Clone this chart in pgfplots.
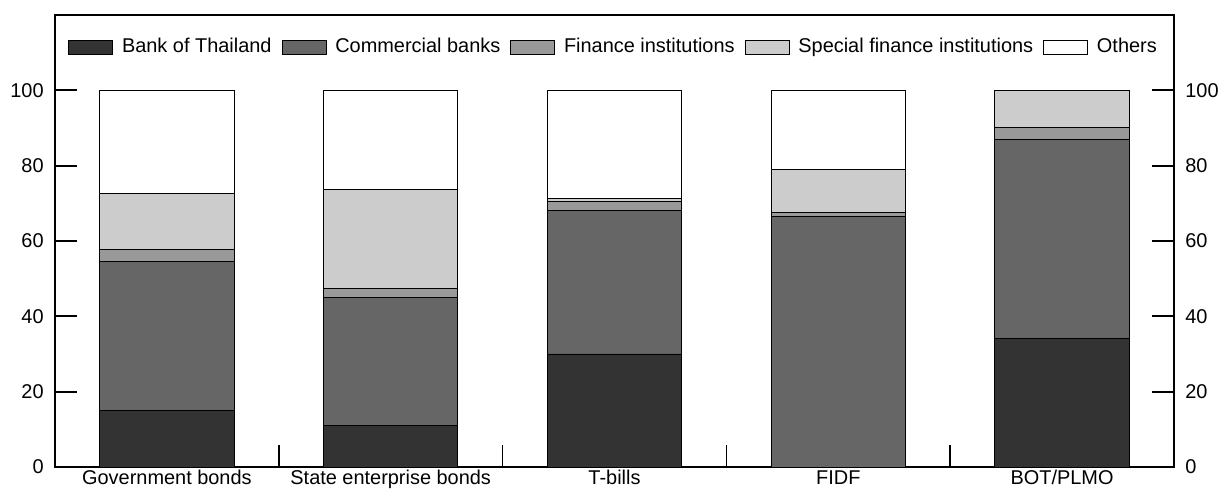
\documentclass[border=0pt]{standalone}
\usepackage{pgfplots}
\pgfplotsset{compat=1.18}
\usepackage{pgfplotstable}
\usepackage{fontspec}
\setmainfont{Liberation Sans}

\definecolor{botc}{gray}{0.2}
\definecolor{cbc}{gray}{0.4}
\definecolor{fic}{gray}{0.6}
\definecolor{sfic}{gray}{0.8}

% holders' shares, per cent
\pgfplotstableread{
cat bot cb fi sfi oth
0 15 39.6 3.2 14.9 27.3
1 11 33.9 2.6 26.1 26.4
2 30 38 2.5 0.7 28.8
3 0 66.4 1.1 11.4 21.1
4 34 53 3 10 0
}\shares

\begin{document}
\begin{tikzpicture}
\pgfplotsset{
  basestyle/.style={
    scale only axis,
    width=559.5bp, height=226bp,
    at={(0,0)}, anchor=south west,
    xmin=-0.5, xmax=4.5,
    ymin=0, ymax=120,
    ytick={0,20,...,100},
    tick align=inside,
    major tick length=11bp,
    minor tick length=11bp,
    axis line style={line width=0.9pt},
    tick style={line width=0.9pt, black},
    /pgf/number format/assume math mode=true,
    ticklabel style={font=\fontsize{10}{12}\selectfont},
  },
}
\begin{axis}[
  basestyle,
  ybar stacked,
  bar width=0.6,
  xtick={0,1,2,3,4},
  xticklabels={Government bonds, State enterprise bonds, T-bills, FIDF, BOT/PLMO},
  major x tick style={draw=none},
  minor xtick={0.5,1.5,2.5,3.5},
  xtick pos=bottom,
  ytick pos=left,
  xticklabel style={inner sep=1.5bp},
  yticklabel style={inner sep=2bp, xshift=-3.5bp},
  legend columns=5,
  legend style={
    at={(0.5,0.929)}, anchor=center, draw=none, fill=none,
    font=\fontsize{10}{12}\selectfont,
    /tikz/every odd column/.append style={column sep=2.5bp},
    /tikz/every even column/.append style={column sep=3bp},
    inner sep=0pt,
  },
  legend image code/.code={\draw[#1, line width=0.4pt] (0bp,-3.5bp) rectangle (22bp,3.5bp);},
]
\addplot[fill=botc, draw=black, line width=0.5pt] table[x=cat, y=bot] {\shares};
\addplot[fill=cbc, draw=black, line width=0.5pt] table[x=cat, y=cb] {\shares};
\addplot[fill=fic, draw=black, line width=0.5pt] table[x=cat, y=fi] {\shares};
\addplot[fill=sfic, draw=black, line width=0.5pt] table[x=cat, y=sfi] {\shares};
\addplot[fill=white, draw=black, line width=0.5pt] table[x=cat, y=oth] {\shares};
\legend{Bank of Thailand, Commercial banks, Finance institutions, Special finance institutions, Others}
\end{axis}
\begin{axis}[
  basestyle,
  axis x line=none,
  axis y line*=right,
  ytick pos=right,
  yticklabel pos=right,
  yticklabel style={inner sep=2bp, xshift=3.5bp},
]
\addplot[draw=none] coordinates {(0,0)};
\end{axis}
\pgfresetboundingbox
\path (-27.5bp,-11.5bp) rectangle (583bp,233.5bp);
\end{tikzpicture}
\end{document}
